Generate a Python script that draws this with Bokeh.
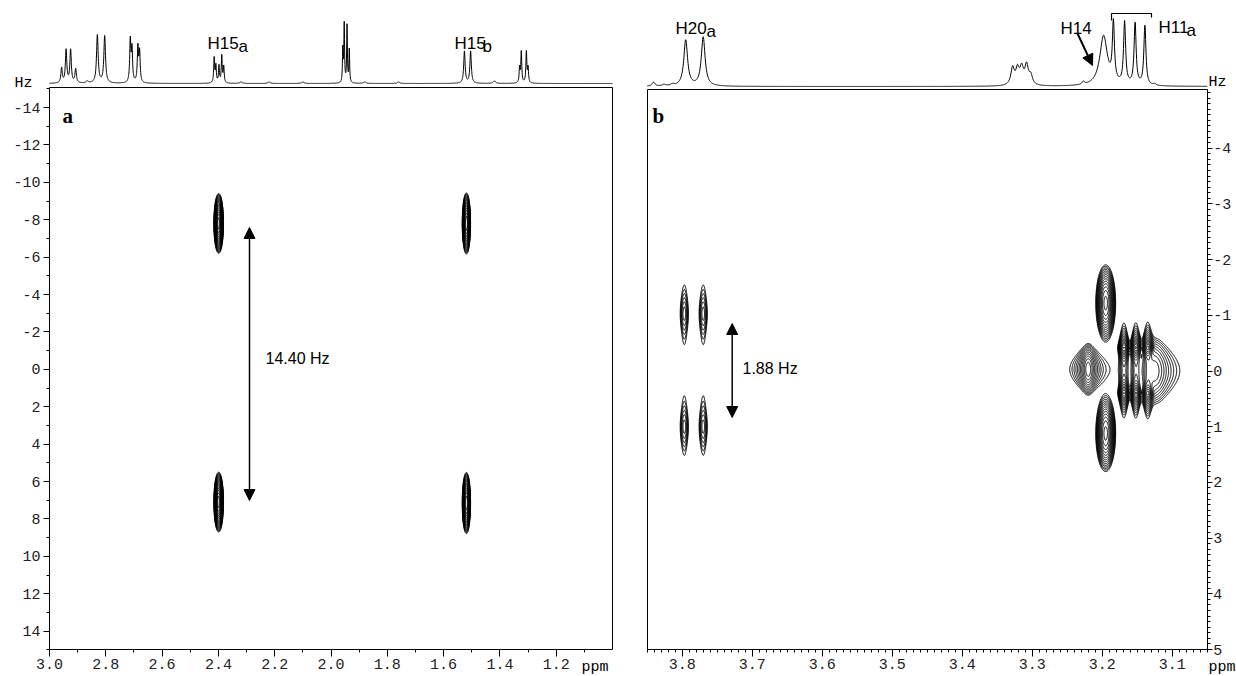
import numpy as np
from bokeh.plotting import figure
from bokeh.models import (Range1d, LinearAxis, FixedTicker, Label, Arrow,
                          NormalHead, PrintfTickFormatter)
from bokeh.layouts import row
from bokeh.embed import file_html
from bokeh.resources import INLINE

# ======================= DATA =======================
# (a) 1D projection on top: peak positions (ppm), heights (a.u.), line widths (ppm)
a_proj_ppm = [2.957, 2.941, 2.925, 2.907, 2.866, 2.830, 2.804, 2.713, 2.707, 2.686, 2.680,
              2.415, 2.409, 2.398, 2.388, 2.381, 2.32, 2.22, 2.10, 1.958, 1.953, 1.943, 1.935,
              1.88, 1.76, 1.526, 1.504, 1.42, 1.330, 1.324, 1.306, 1.300]
a_proj_height = [15, 33, 33, 14, 2, 48, 47, 42, 33, 35, 30,
                 25, 17, 17, 27, 16, 1.5, 1.5, 1.5, 33, 58, 57, 33,
                 1.5, 1.5, 32, 32, 2.5, 15, 31, 31, 15]
a_proj_width = [0.006, 0.006, 0.006, 0.006, 0.01, 0.007, 0.007, 0.005, 0.005, 0.005, 0.005,
                0.004, 0.004, 0.004, 0.004, 0.004, 0.01, 0.01, 0.01, 0.003, 0.003, 0.003, 0.003,
                0.01, 0.01, 0.006, 0.006, 0.01, 0.004, 0.004, 0.004, 0.004]

# (a) 2D J-resolved cross peaks: shift (ppm), J (Hz), amplitude, widths, line shape
#     shape "gl": Gaussian along ppm, Lorentzian along Hz; "lg": the reverse; "gg": Gaussian
a_pk_ppm = [2.399, 2.399, 1.519, 1.519]
a_pk_hz = [-7.8, 7.1, -7.8, 7.15]
a_pk_amp = [1.0, 1.0, 0.72, 0.72]
a_pk_wppm = [0.0068, 0.0068, 0.0062, 0.0062]
a_pk_whz = [0.63, 0.63, 0.68, 0.68]
a_pk_shape = ["gg"] * 4

# (b) 1D projection on top
b_proj_ppm = [3.841, 3.826, 3.814, 3.795, 3.770, 3.328, 3.321, 3.315, 3.308, 3.302,
              3.227, 3.198, 3.184, 3.168, 3.153, 3.139, 3.125]
b_proj_height = [4, 1.5, 1.5, 46, 49, 17, 15, 16, 19, 9,
                 3, 50, 58, 62, 62, 60, 1.5]
b_proj_width = [0.005, 0.006, 0.006, 0.0065, 0.0065, 0.006, 0.006, 0.006, 0.006, 0.006,
                0.004, 0.013, 0.0035, 0.0035, 0.0035, 0.0035, 0.005]

# (b) 2D J-resolved cross peaks
b_pk_ppm = [3.797, 3.797, 3.770, 3.770, 3.195, 3.195, 3.220,
            3.169, 3.169, 3.152, 3.152, 3.135, 3.135, 3.125]
b_pk_hz = [-1.03, 1.0, -1.03, 1.0, -1.22, 1.12, -0.03,
           -0.42, 0.4, -0.42, 0.4, -0.42, 0.4, 0.0]
b_pk_amp = [0.17, 0.17, 0.17, 0.17, 1.0, 1.0, 0.55,
            0.9, 0.9, 0.9, 0.9, 0.9, 0.9, 0.35]
b_pk_wppm = [0.0037] * 4 + [0.0058, 0.0058, 0.0079] + [0.0035] * 6 + [0.0143]
b_pk_whz = [0.32] * 4 + [0.28, 0.28, 0.21] + [0.1] * 6 + [0.3]
b_pk_shape = ["gl"] * 4 + ["gg", "gg", "lg"] + ["gl"] * 6 + ["lg"]

# ticks
a_xticks = [3.0, 2.8, 2.6, 2.4, 2.2, 2.0, 1.8, 1.6, 1.4, 1.2]
a_xminor = [2.9, 2.7, 2.5, 2.3, 2.1, 1.9, 1.7, 1.5, 1.3, 1.1]
a_yticks = [-14, -12, -10, -8, -6, -4, -2, 0, 2, 4, 6, 8, 10, 12, 14]
a_yminor = [-15, -13, -11, -9, -7, -5, -3, -1, 1, 3, 5, 7, 9, 11, 13, 15]
b_xticks = [3.8, 3.7, 3.6, 3.5, 3.4, 3.3, 3.2, 3.1]
b_xminor = [round(3.05 + 0.01 * i, 2) for i in range(81)]
b_yticks = [-4, -3, -2, -1, 0, 1, 2, 3, 4, 5]
b_yminor = [round(-5 + 0.1 * i, 1) for i in range(101)]

# texts
a_labels = ["H15", "a", "H15", "b"]
b_labels = ["H20", "a", "H14", "H11", "a"]
a_coupling = "14.40 Hz"
b_coupling = "1.88 Hz"

# ======================= LAYOUT =======================
W_A, W_B, H = 638, 598, 676

# page pixel -> data mappings (panel a spans page x 0..638, panel b 638..1236)
ax_ = lambda px: 3.0 - (px - 49) / 281.5
ahz = lambda py: -14 + (py - 107) / 18.7
bx_ = lambda px: 3.8 - (px - 681.7) / 700.0
bhz = lambda py: (py - 370.5) / 55.7
A_BASE, B_BASE = 83, 86
aspec = lambda py: A_BASE - py
bspec = lambda py: B_BASE - py

MONO = "Liberation Mono"
SANS = "Liberation Sans"
SERIF = "Liberation Serif"
TICK_FS = "15px"


def style_axis(ax, ticks, minor, fmt, tick_out=6, standoff=2):
    ax.ticker = FixedTicker(ticks=ticks, minor_ticks=minor)
    ax.formatter = PrintfTickFormatter(format=fmt)
    ax.major_tick_out = tick_out
    ax.major_tick_in = 0
    ax.minor_tick_out = 3
    ax.minor_tick_in = 0
    ax.axis_line_color = "black"
    ax.major_tick_line_color = "black"
    ax.minor_tick_line_color = "black"
    ax.major_label_text_font = MONO
    ax.major_label_text_font_size = TICK_FS
    ax.major_label_text_color = "#222222"
    ax.major_label_standoff = standoff


def plain_axis(bounds, loc):
    ax = LinearAxis(ticker=FixedTicker(ticks=[]), bounds=bounds, fixed_location=loc)
    ax.major_tick_out = 0
    ax.major_tick_in = 0
    ax.minor_tick_out = 0
    ax.minor_tick_in = 0
    ax.major_label_text_font_size = "0px"
    ax.axis_line_color = "black"
    return ax


def proj(x, pos, hgt, wid):
    y = np.zeros_like(x)
    for c, h, w in zip(pos, hgt, wid):
        y += h / (1.0 + ((x - c) / (w / 2.0)) ** 2)
    return y


def field(X, Y, pos, hz, amp, sx, sy, shape):
    z = np.zeros_like(X)
    for c, f, a, wx, wy, s in zip(pos, hz, amp, sx, sy, shape):
        u = (X - c) / wx
        v = (Y - f) / wy
        if s == "gl":
            z += a * np.exp(-0.5 * u ** 2) / (1.0 + v ** 2)
        elif s == "lg":
            z += a * np.exp(-0.5 * v ** 2) / (1.0 + u ** 2)
        else:
            z += a * np.exp(-0.5 * (u ** 2 + v ** 2))
    return z


def label(p, x, y, text, font, size, rng=None, align="left", baseline="alphabetic",
          style="normal"):
    kw = dict(x=x, y=y, text=text, text_font=font, text_font_size=size,
              text_align=align, text_baseline=baseline, text_font_style=style,
              text_color="black")
    if rng:
        kw["y_range_name"] = rng
    p.add_layout(Label(**kw))


def head():
    return NormalHead(size=11, fill_color="black", line_color="black")


def base_fig(w, xr, yr, spec_range, yloc):
    p = figure(width=w, height=H, output_backend="svg", toolbar_location=None,
               x_range=xr, y_range=yr, min_border=0, min_border_left=0,
               min_border_right=0, min_border_top=0, min_border_bottom=0,
               y_axis_location=yloc)
    p.extra_y_ranges = {"spec": spec_range}
    p.outline_line_color = None
    p.grid.visible = False
    return p


# ======================= PANEL A =======================
A_TOP, A_BOT = -15.05, 15.0
pa = base_fig(W_A, Range1d(ax_(0), ax_(W_A)), Range1d(ahz(H), ahz(0)),
              Range1d(aspec(H), aspec(0)), "left")
style_axis(pa.xaxis[0], a_xticks, a_xminor, "%.1f", tick_out=7, standoff=2)
pa.xaxis[0].fixed_location = A_BOT
pa.xaxis[0].bounds = (1.0, 3.0)
style_axis(pa.yaxis[0], a_yticks, a_yminor, "%d", tick_out=6, standoff=3)
pa.yaxis[0].fixed_location = 3.0
pa.yaxis[0].bounds = (A_TOP, A_BOT)
pa.add_layout(plain_axis((A_TOP, A_BOT), 1.0), "right")
pa.add_layout(plain_axis((1.0, 3.0), A_TOP), "above")

xa = np.linspace(1.0, 3.0, 4001)
pa.line(xa, proj(xa, a_proj_ppm, a_proj_height, a_proj_width), y_range_name="spec",
        line_color="black", line_width=1)

gx = np.arange(1.45, 2.47, 0.0008)
gy = np.arange(-11.0, 10.5, 0.03)
GX, GY = np.meshgrid(gx, gy)
za = field(GX, GY, a_pk_ppm, a_pk_hz, a_pk_amp, a_pk_wppm, a_pk_whz, a_pk_shape)
levels_a = [0.04 * 1.2 ** k for k in range(18)]
pa.contour(gx, gy, za, levels_a, line_color="black", line_width=1)

label(pa, ax_(207), aspec(43), a_labels[0], SANS, "17px", "spec")
label(pa, ax_(238), aspec(45.5), a_labels[1], SANS, "17px", "spec")
label(pa, ax_(454), aspec(43), a_labels[2], SANS, "17px", "spec")
label(pa, ax_(482), aspec(45.5), a_labels[3], SANS, "17px", "spec")
label(pa, ax_(14), aspec(83), "Hz", MONO, TICK_FS, "spec")
label(pa, ax_(581), ahz(658), "ppm", MONO, TICK_FS, baseline="top")
label(pa, ax_(62), ahz(115), "a", SERIF, "21px", style="bold")
label(pa, ax_(265), ahz(358), a_coupling, SANS, "16px", baseline="middle")
pa.add_layout(Arrow(x_start=ax_(249), y_start=ahz(500), x_end=ax_(249), y_end=ahz(227),
                    line_width=1.5, line_color="black", start=head(), end=head()))

# ======================= PANEL B =======================
B_TOP, B_BOT = -5.05, 5.0
pb = base_fig(W_B, Range1d(bx_(638), bx_(638 + W_B)), Range1d(bhz(H), bhz(0)),
              Range1d(bspec(H), bspec(0)), "right")
style_axis(pb.xaxis[0], b_xticks, b_xminor, "%.1f", tick_out=7, standoff=2)
pb.xaxis[0].fixed_location = B_BOT
pb.xaxis[0].bounds = (3.05, 3.85)
style_axis(pb.yaxis[0], b_yticks, b_yminor, "%d", tick_out=5, standoff=1)
pb.yaxis[0].fixed_location = 3.05
pb.yaxis[0].bounds = (B_TOP, B_BOT)
pb.add_layout(plain_axis((B_TOP, B_BOT), 3.85), "left")
pb.add_layout(plain_axis((3.05, 3.85), B_TOP), "above")

xb = np.linspace(3.05, 3.85, 2001)
pb.line(xb, proj(xb, b_proj_ppm, b_proj_height, b_proj_width), y_range_name="spec",
        line_color="black", line_width=1)

hx = np.arange(3.06, 3.84, 0.0005)
hy = np.arange(-2.5, 2.5, 0.012)
HX, HY = np.meshgrid(hx, hy)
zb = field(HX, HY, b_pk_ppm, b_pk_hz, b_pk_amp, b_pk_wppm, b_pk_whz, b_pk_shape)
levels_b = [0.05 * 1.25 ** k for k in range(14)]
pb.contour(hx, hy, zb, levels_b, line_color="black", line_width=1)

label(pb, bx_(675), bspec(28), b_labels[0], SANS, "17px", "spec")
label(pb, bx_(706), bspec(30.5), b_labels[1], SANS, "17px", "spec")
label(pb, bx_(1060), bspec(28), b_labels[2], SANS, "17px", "spec")
label(pb, bx_(1158), bspec(27), b_labels[3], SANS, "17px", "spec")
label(pb, bx_(1186), bspec(29.5), b_labels[4], SANS, "17px", "spec")
label(pb, bx_(1208), bspec(82), "Hz", MONO, TICK_FS, "spec")
label(pb, bx_(1208), bhz(658), "ppm", MONO, TICK_FS, baseline="top")
label(pb, bx_(652), bhz(115), "b", SERIF, "21px", style="bold")
label(pb, bx_(742), bhz(368), b_coupling, SANS, "16px", baseline="middle")
pb.add_layout(Arrow(x_start=bx_(731.7), y_start=bhz(417), x_end=bx_(731.7), y_end=bhz(323),
                    line_width=1.5, line_color="black", start=head(), end=head()))
pb.add_layout(Arrow(x_start=bx_(1077), y_start=bspec(33), x_end=bx_(1092), y_end=bspec(65),
                    y_range_name="spec", line_width=2, line_color="black", end=head()))
pb.multi_line([[bx_(1111), bx_(1111), bx_(1151), bx_(1151)]],
              [[bspec(20), bspec(13), bspec(13), bspec(17)]],
              y_range_name="spec", line_color="black", line_width=1.2)

layout = row(pa, pb)
open("out.html", "w").write(file_html(layout, INLINE))
